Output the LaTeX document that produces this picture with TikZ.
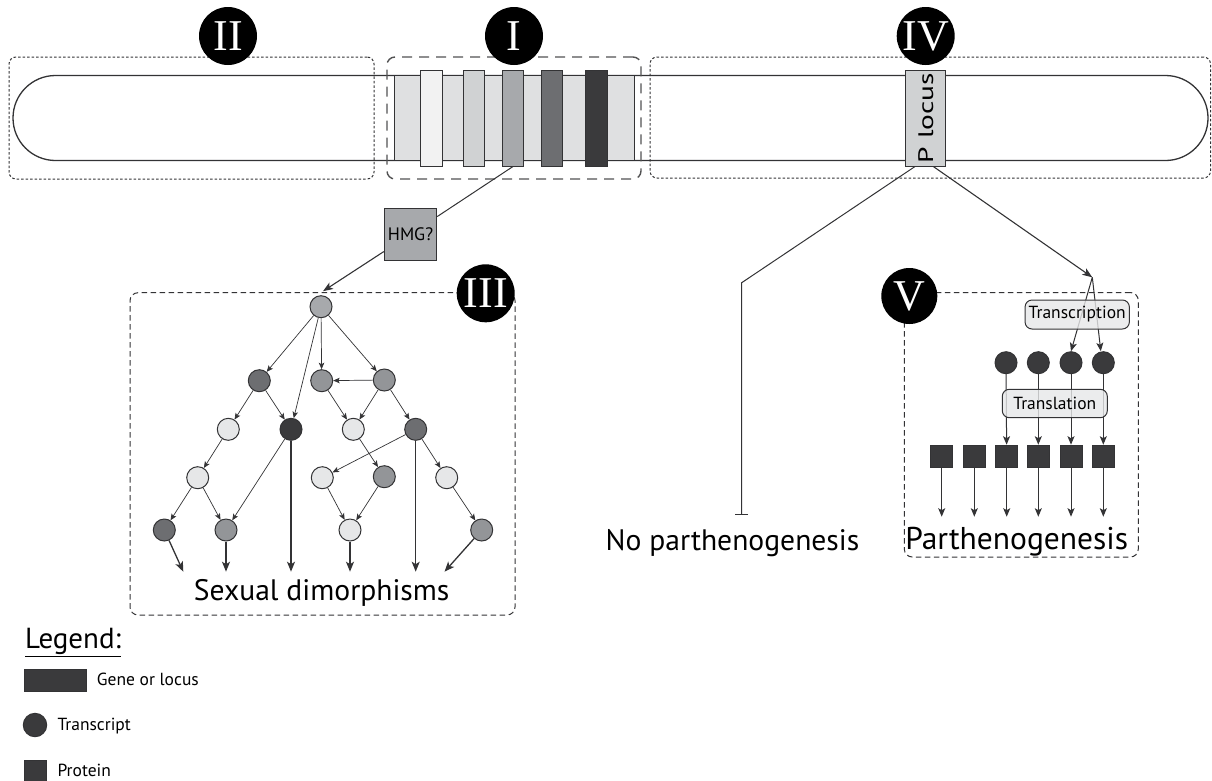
\documentclass[tikz,border=0pt]{standalone}
\usepackage{fontspec}
\setmainfont{PT Sans}
\newfontfamily\romanfont{Liberation Serif}
\usetikzlibrary{arrows.meta}
\newcommand{\fsz}[1]{\fontsize{#1pt}{#1pt}\selectfont}
\definecolor{cline}{HTML}{333335}
\definecolor{clight}{HTML}{E6E7E8}
\definecolor{cgray}{HTML}{939598}
\definecolor{croot}{HTML}{A7A9AC}
\definecolor{cdark}{HTML}{6D6E71}
\definecolor{cvdark}{HTML}{3A3A3C}
\definecolor{cband}{HTML}{DFE0E1}
\definecolor{cbA}{HTML}{F2F2F2}
\definecolor{cbB}{HTML}{D0D2D3}
\definecolor{cbC}{HTML}{A7A9AC}
\definecolor{cbD}{HTML}{6D6E71}
\definecolor{cbE}{HTML}{3A3A3C}
\begin{document}
\begin{tikzpicture}[x=1pt,y=-1pt,
  chrom/.style={draw=cline,line width=1.3pt,inner sep=0pt},
  dotbox/.style={draw=cline,line width=1pt,dash pattern=on 2.5pt off 2pt,rounded corners=7pt,inner sep=0pt},
  dashboxA/.style={draw=cline!85,line width=1.4pt,dash pattern=on 10pt off 7pt,rounded corners=8pt,inner sep=0pt},
  dashboxB/.style={draw=cline,line width=1pt,dash pattern=on 5.5pt off 3.5pt,rounded corners=8pt,inner sep=0pt},
  numeral/.style={circle,fill=black,minimum size=58pt,inner sep=0pt,text=white,font=\romanfont\fsz{44}},
  gbar/.style={draw=cline,line width=1pt,minimum width=21.5pt,minimum height=96pt,inner sep=0pt},
  tnode/.style={circle,draw=cline,line width=1pt,minimum size=22pt,inner sep=0pt},
  thin/.style={draw=cline,line width=0.7pt,-{Stealth[length=6.5pt,width=5.5pt,inset=1.5pt]}},
  thick/.style={draw=cline,line width=1.3pt,-{Stealth[length=10pt,width=8pt,inset=2.5pt]}},
  med/.style={draw=cline,line width=1pt,-{Stealth[length=8.5pt,width=7pt,inset=2pt]}},
  main/.style={draw=cline,line width=1.1pt,-{Stealth[length=10pt,width=7.5pt,inset=2.5pt]}},
  procbox/.style={draw=cline,line width=1pt,rounded corners=7pt,fill=clight,fill opacity=0.8,text opacity=1,inner sep=0pt,font=\fsz{17.5}},
  prot/.style={draw=cline,line width=1pt,fill=cvdark,minimum size=22pt,inner sep=0pt},
  bigtext/.style={font=\fsz{29.6},inner sep=0pt,anchor=base},
  legtext/.style={font=\fsz{17.5},inner sep=0pt,anchor=base west},
]
\useasboundingbox (0,0) rectangle (1212,780);

% chromosome
\node[chrom,rounded corners=42.5pt,minimum width=1195pt,minimum height=85pt] (chrom) at (610.5,118) {};
\node[draw=cline,line width=1pt,fill=cband,minimum width=240pt,minimum height=85pt,inner sep=0pt] (band) at (514,118) {};
\node[gbar,fill=cbA] (b1) at (431.5,118) {};
\node[gbar,fill=cbB] (b2) at (473.8,118) {};
\node[gbar,fill=cbC] (b3) at (513,118) {};
\node[gbar,fill=cbD] (b4) at (551.8,118) {};
\node[gbar,fill=cbE] (b5) at (596.7,118) {};
\node[draw=cline,line width=1pt,fill=cbB,minimum width=40pt,minimum height=96pt,inner sep=0pt,font=\fsz{21}] (plocus) at (925.7,118) {\rotatebox{90}{\scalebox{1.4}[1]{P locus}}};

% region boxes
\node[dotbox,minimum width=365pt,minimum height=122pt] (boxII) at (191.5,118) {};
\node[dashboxA,minimum width=254pt,minimum height=122pt] (boxI) at (514,118) {};
\node[dotbox,minimum width=560.5pt,minimum height=121pt] (boxIV) at (930.25,117.5) {};
\node[dashboxB,minimum width=385pt,minimum height=322.3pt] (boxIII) at (322.5,453.85) {};
\node[dashboxB,minimum width=234pt,minimum height=264.5pt] (boxV) at (1021.3,424.75) {};

% HMG
\node[draw=cline,line width=1pt,fill=cbC,minimum width=52.4pt,minimum height=51.7pt,inner sep=0pt,font=\fsz{18}] (hmg) at (410.5,234.2) {HMG?};

% tree
\node[tnode,fill=croot] (t0) at (321,306.7) {};
\node[tnode,fill=cdark] (ta) at (259.3,380.7) {};
\node[tnode,fill=cgray] (tb) at (321.7,380.7) {};
\node[tnode,fill=cgray] (tc) at (384.3,380) {};
\node[tnode,fill=clight] (td) at (228.3,429.3) {};
\node[tnode,fill=cvdark] (te) at (291,429.3) {};
\node[tnode,fill=clight] (tf) at (353.3,429.3) {};
\node[tnode,fill=cdark] (tg) at (415.7,429.3) {};
\node[tnode,fill=clight] (th) at (197.7,477.7) {};
\node[tnode,fill=clight] (ti) at (322.3,477.7) {};
\node[tnode,fill=cgray] (tj) at (384.3,476.7) {};
\node[tnode,fill=clight] (tk) at (446.7,477.7) {};
\node[tnode,fill=cdark] (tl) at (164.3,530) {};
\node[tnode,fill=cgray] (tm) at (226,530) {};
\node[tnode,fill=clight] (tn) at (350,530) {};
\node[tnode,fill=cgray] (to) at (481.7,530) {};

\draw[thin] (t0) -- (ta);
\draw[thin] (t0) -- (te);
\draw[thin] (t0) -- (tb);
\draw[thin] (t0) -- (tc);
\draw[thin] (tc) -- (tb);
\draw[thin] (ta) -- (td);
\draw[thin] (ta) -- (te);
\draw[thin] (tb) -- (tf);
\draw[thin] (tc) -- (tf);
\draw[thin] (tc) -- (tg);
\draw[thin] (td) -- (th);
\draw[thin] (te) -- (tm);
\draw[thin] (tg) -- (ti);
\draw[thin] (tg) -- (tk);
\draw[thin] (tf) -- (tj);
\draw[thin] (th) -- (tl);
\draw[thin] (th) -- (tm);
\draw[thin] (ti) -- (tn);
\draw[thin] (tj) -- (tn);
\draw[thin] (tk) -- (to);

\coordinate (d1) at (183.3,571.7);
\coordinate (d2) at (226,571.7);
\coordinate (d3) at (291,571.7);
\coordinate (d4) at (350,571.7);
\coordinate (d5) at (415.7,571.7);
\coordinate (d6) at (444.5,571.7);
\draw[thick] (tl) -- (d1);
\draw[thick] (tm) -- (d2);
\draw[thick] (te) -- (d3);
\draw[thick] (tn) -- (d4);
\draw[thick] (tg) -- (d5);
\draw[thick] (to) -- (d6);

\node[bigtext] (sexdim) at (321.7,600.7) {Sexual dimorphisms};

% connectors from chromosome
\draw[draw=cline,line width=1pt] (b3.south) -- (hmg);
\draw[main] (hmg) -- ([xshift=2pt,yshift=4pt]t0.north);

\coordinate (bend) at (741.7,282.7);
\coordinate (tbar) at (741.7,515);
\draw[draw=cline,line width=1pt,-{Bar[width=13pt,line width=1.3pt]}] ([xshift=-10.7pt]plocus.south) -- (bend) -- (tbar);
\node[bigtext] (nopar) at (732.5,550) {No parthenogenesis};

\coordinate (split) at (1092.3,277.3);
\draw[main] ([xshift=7.6pt]plocus.south) -- (split);

% region V
\node[tnode,fill=cvdark] (c1) at (1006,362.7) {};
\node[tnode,fill=cvdark] (c2) at (1038.3,362.7) {};
\node[tnode,fill=cvdark] (c3) at (1071,362.7) {};
\node[tnode,fill=cvdark] (c4) at (1103.3,362.7) {};
\draw[med] (split) -- (c3.north);
\draw[med] (split) -- ([xshift=-2.5pt]c4.north);
\node[procbox,minimum width=104.3pt,minimum height=29pt] (transc) at (1077.2,314.5) {Transcription};

\node[prot] (s1) at (941.7,456.2) {};
\node[prot] (s2) at (974.3,456.2) {};
\node[prot] (s3) at (1006.7,456.2) {};
\node[prot] (s4) at (1038.3,456.2) {};
\node[prot] (s5) at (1071,456.2) {};
\node[prot] (s6) at (1103.3,456.2) {};
\draw[med] (c1) -- (s3);
\draw[med] (c2) -- (s4);
\draw[med] (c3) -- (s5);
\draw[med] (c4) -- (s6);
\node[procbox,minimum width=105pt,minimum height=28.4pt] (transl) at (1054.8,403.5) {Translation};

\coordinate (e1) at (941.7,516.7);
\coordinate (e2) at (974.3,516.7);
\coordinate (e3) at (1006.7,516.7);
\coordinate (e4) at (1038.3,516.7);
\coordinate (e5) at (1071,516.7);
\coordinate (e6) at (1103.3,516.7);
\draw[med] (s1) -- (e1);
\draw[med] (s2) -- (e2);
\draw[med] (s3) -- (e3);
\draw[med] (s4) -- (e4);
\draw[med] (s5) -- (e5);
\draw[med] (s6) -- (e6);
\node[bigtext,font=\fsz{31.5}] (parth) at (1016.7,549) {Parthenogenesis};

% numerals
\node[numeral] (nII) at (228,36) {II};
\node[numeral] (nI) at (514,36) {I};
\node[numeral] (nIV) at (925.7,36) {IV};
\node[numeral] (nIII) at (485.7,293.3) {III};
\node[numeral,minimum size=56pt] (nV) at (909.3,296) {V};

% legend
\node[font=\fsz{29},inner sep=0pt,anchor=base west] (legend) at (25,648.3) {\underline{Legend:}};
\node[draw=cline,line width=1pt,fill=cvdark,minimum width=62pt,minimum height=21.7pt,inner sep=0pt] (lgene) at (55,680.2) {};
\node[legtext] (lgenet) at (96.7,685) {Gene or locus};
\node[tnode,fill=cvdark,minimum size=23.4pt] (ltr) at (35,725) {};
\node[legtext] (ltrt) at (57.3,730.7) {Transcript};
\node[prot] (lpr) at (35,771) {};
\node[legtext] (lprt) at (57.3,776) {Protein};
\end{tikzpicture}
\end{document}
